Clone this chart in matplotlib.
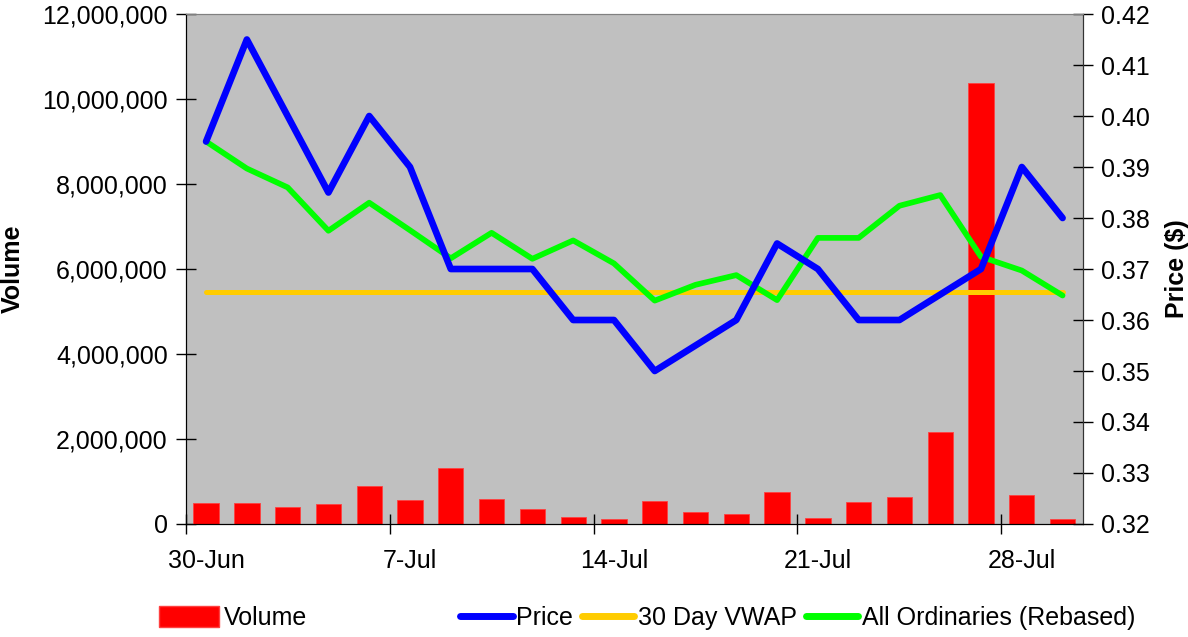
import matplotlib
matplotlib.use("Agg")
import matplotlib.pyplot as plt
from matplotlib.ticker import StrMethodFormatter, FixedLocator
from matplotlib.patches import Patch
from matplotlib.lines import Line2D

plt.rcParams['font.family'] = ['Liberation Sans', 'DejaVu Sans']

# trading days 30-Jun .. 29-Jul
dates = ["30-Jun", "1-Jul", "2-Jul", "3-Jul", "4-Jul",
         "7-Jul", "8-Jul", "9-Jul", "10-Jul", "11-Jul",
         "14-Jul", "15-Jul", "16-Jul", "17-Jul", "18-Jul",
         "21-Jul", "22-Jul", "23-Jul", "24-Jul", "25-Jul",
         "28-Jul", "29-Jul"]
volume = [490000, 500000, 390000, 480000, 887000,
          557000, 1310000, 588000, 353000, 173000,
          118000, 540000, 280000, 235000, 753000,
          133000, 525000, 627000, 2157000, 10370000,
          675000, 118000]
price = [0.395, 0.415, 0.400, 0.385, 0.400,
         0.390, 0.370, 0.370, 0.370, 0.360,
         0.360, 0.350, 0.355, 0.360, 0.375,
         0.370, 0.360, 0.360, 0.365, 0.370,
         0.390, 0.380]
vwap = [0.3654] * len(dates)
allords = [0.3950, 0.3897, 0.3860, 0.3775, 0.3830,
           0.3776, 0.3721, 0.3771, 0.3720, 0.3756,
           0.3711, 0.3638, 0.3669, 0.3688, 0.3639,
           0.3761, 0.3761, 0.3824, 0.3845, 0.3724,
           0.3697, 0.3648]
label_idx = [0, 5, 10, 15, 20]

fs = 18
x = list(range(len(dates)))

fig = plt.figure(figsize=(11.88, 6.37), dpi=100)
ax = fig.add_axes([0.1563, 0.1774, 0.7553, 0.8006])
ax.set_facecolor("#C0C0C0")
ax.bar(x, volume, width=0.62, color="#FF0000", edgecolor="#FF4040", linewidth=0.6, zorder=2)
ax.set_xlim(-0.5, len(dates) - 0.5)
ax.set_ylim(0, 12000000)
ax.yaxis.set_major_locator(FixedLocator(range(0, 12000001, 2000000)))
ax.yaxis.set_major_formatter(StrMethodFormatter("{x:,.0f}"))
ax.set_ylabel("Volume", fontsize=fs, fontweight="bold")
ax.yaxis.set_label_coords(-0.179, 0.5)

ax.xaxis.set_major_locator(FixedLocator([i - 0.5 for i in label_idx]))
ax.xaxis.set_major_formatter(plt.NullFormatter())
ax.xaxis.set_minor_locator(FixedLocator(label_idx))
ax.set_xticklabels([dates[i] for i in label_idx], minor=True)
ax.tick_params(axis="x", which="major", direction="inout", length=14, width=1)
ax.tick_params(axis="x", which="minor", length=0, pad=18, labelsize=fs)
ax.tick_params(axis="y", direction="inout", length=14, width=1, pad=6, labelsize=fs)

ax2 = ax.twinx()
ax2.plot(x, vwap, color="#FFCC00", lw=3.6, solid_capstyle="round", zorder=3)
ax2.plot(x, allords, color="#00FF00", lw=4.1, solid_capstyle="round", zorder=4)
ax2.plot(x, price, color="#0000FF", lw=4.8, solid_capstyle="round", zorder=5)
ax2.set_ylim(0.32, 0.42)
ax2.yaxis.set_major_locator(FixedLocator([0.32 + 0.01 * i for i in range(11)]))
ax2.yaxis.set_major_formatter(StrMethodFormatter("{x:.2f}"))
ax2.tick_params(axis="y", direction="inout", length=14, width=1, pad=6, labelsize=fs)
ax2.set_ylabel("Price ($)", fontsize=fs, fontweight="bold")
ax2.yaxis.set_label_coords(1.0914, 0.5)

for a in (ax, ax2):
    a.spines["top"].set_color("#808080")
    a.spines["left"].set_color("black")
    a.spines["right"].set_color("#333333")
    a.spines["bottom"].set_color("black")

h1 = [Patch(facecolor="#FF0000", edgecolor="#FF4040")]
fig.legend(h1, ["Volume"], loc="center left", bbox_to_anchor=(159 / 1188, 1 - 618 / 637),
           frameon=False, fontsize=fs, borderpad=0, borderaxespad=0,
           handlelength=2.4, handleheight=0.9, handletextpad=0.2)

h2 = [Line2D([], [], color="#0000FF", lw=5, solid_capstyle="round"),
      Line2D([], [], color="#FFCC00", lw=5, solid_capstyle="round"),
      Line2D([], [], color="#00FF00", lw=5, solid_capstyle="round")]
fig.legend(h2, ["Price", "30 Day VWAP", "All Ordinaries (Rebased)"], loc="center left",
           bbox_to_anchor=(460 / 1188, 1 - 618 / 637), ncol=3, frameon=False, fontsize=fs,
           borderpad=0, borderaxespad=0, handlelength=2.1, handletextpad=0.15,
           columnspacing=0.35)

fig.savefig("out.png", dpi=100)
